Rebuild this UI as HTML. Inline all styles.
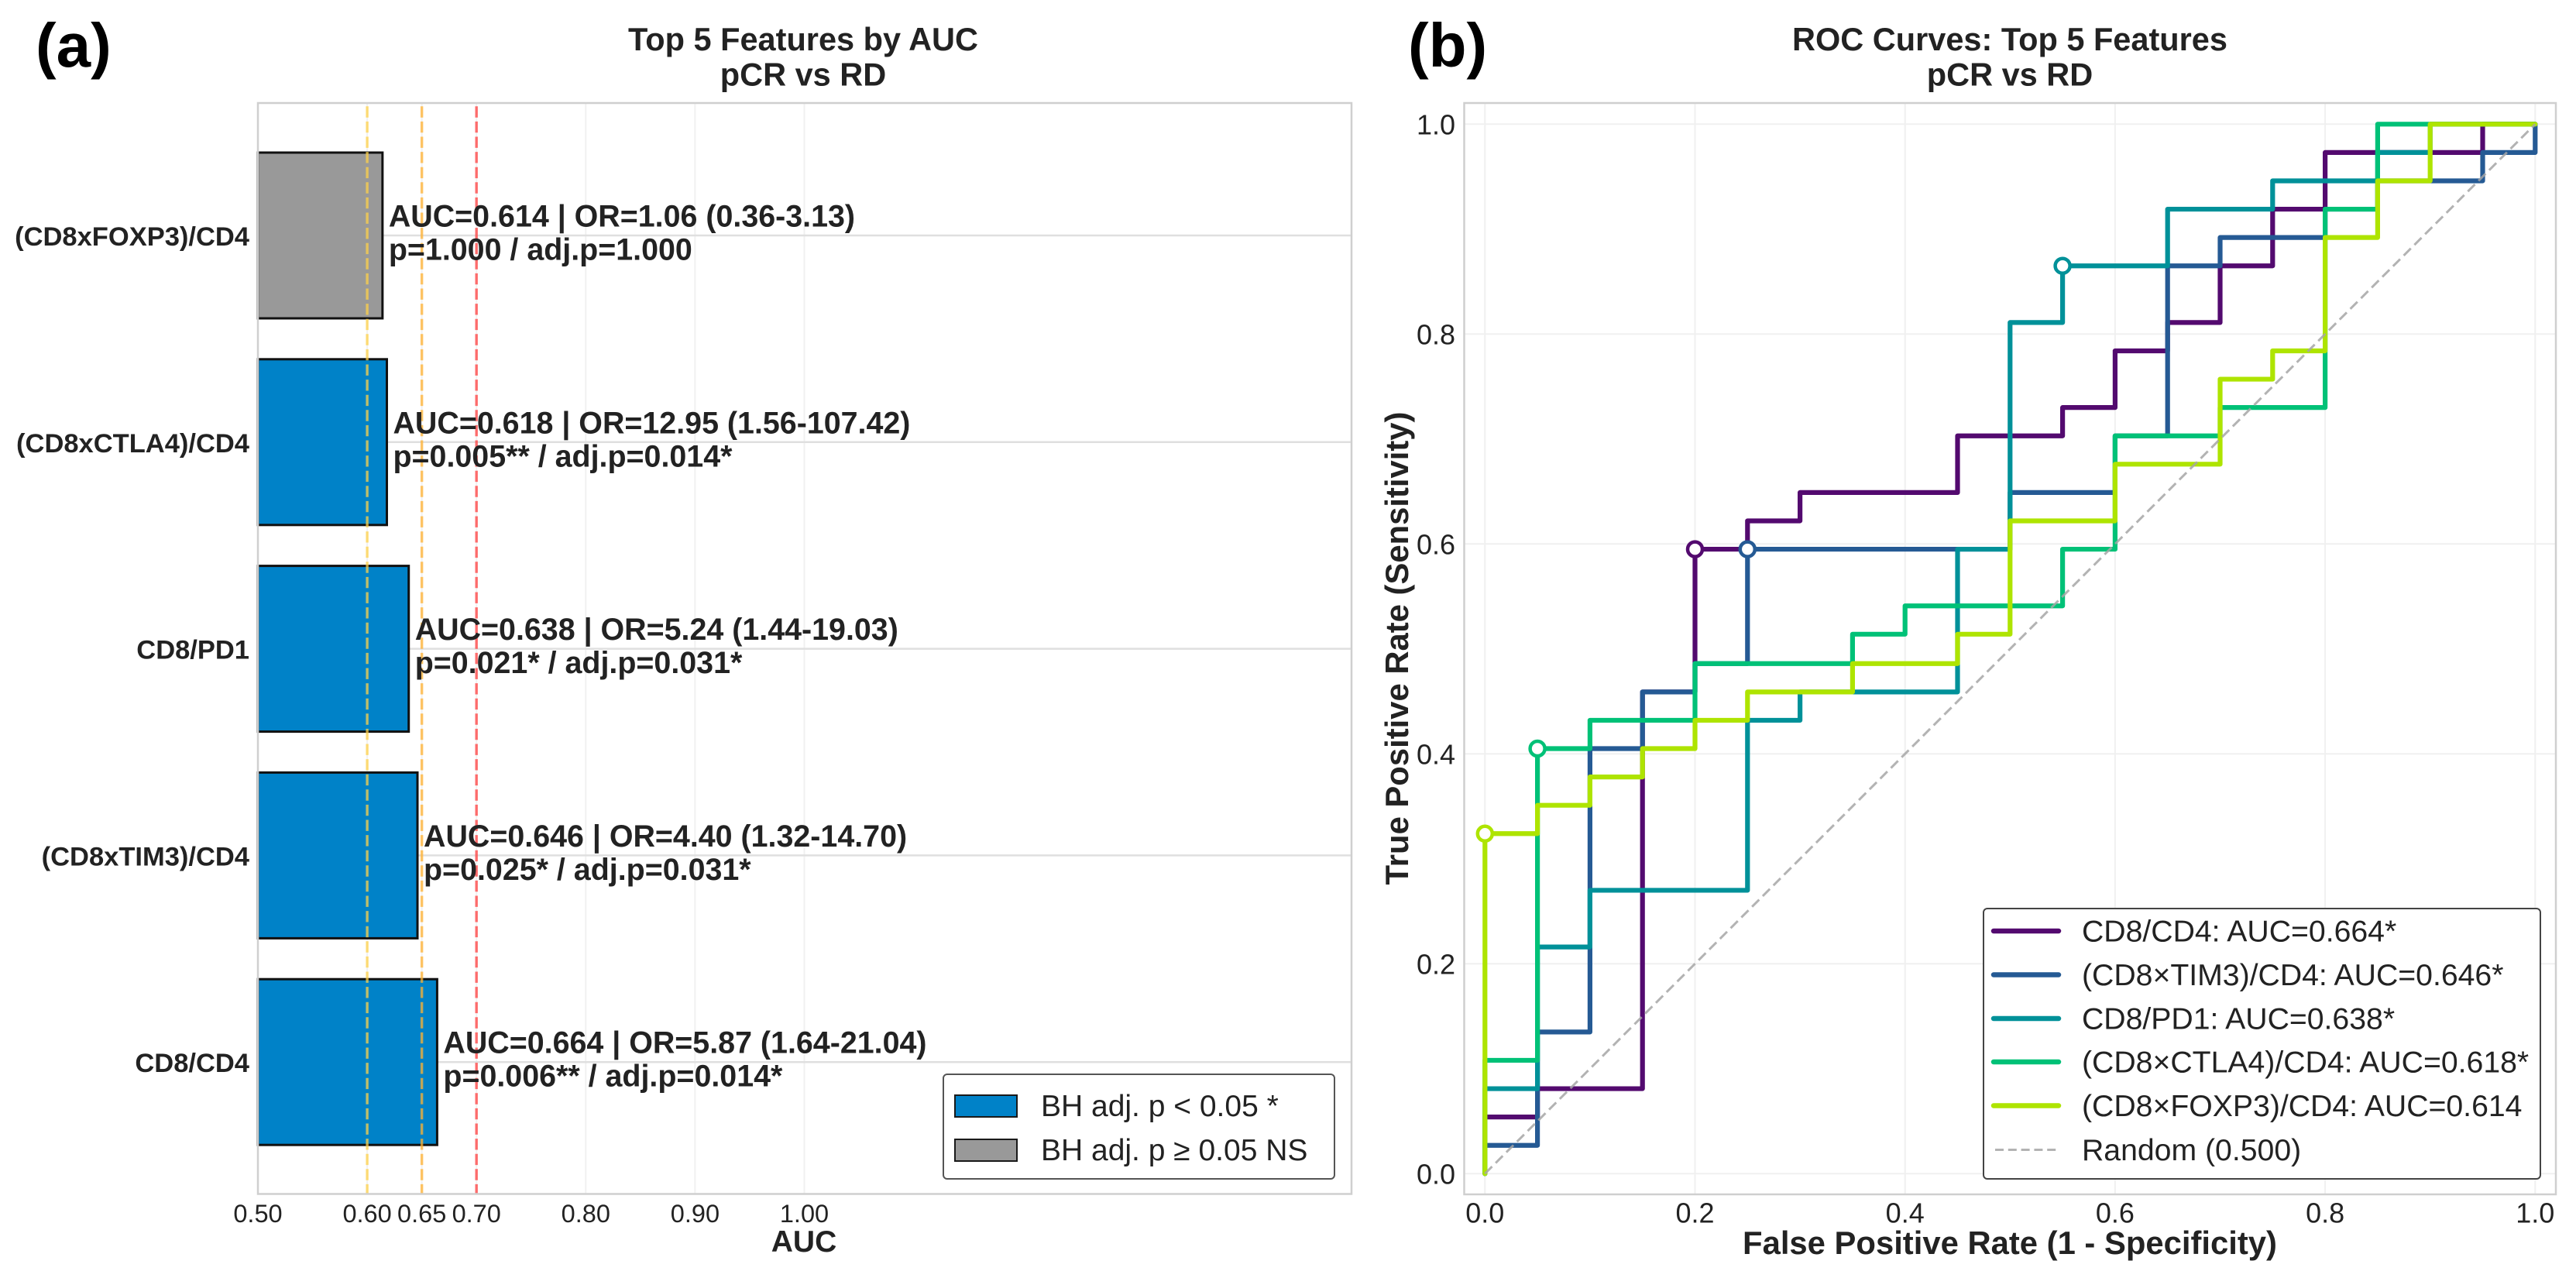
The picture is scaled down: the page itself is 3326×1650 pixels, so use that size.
<!DOCTYPE html>
<html lang="en">
<head>
<meta charset="utf-8">
<title>Top 5 Features by AUC and ROC Curves</title>
<style>
html,body{margin:0;padding:0;background:#fff;width:3326px;height:1650px;overflow:hidden}
svg{display:block;position:absolute;left:0;top:0}
text{font-family:"Liberation Sans",Arial,sans-serif;fill:#222}
.b{font-weight:700}
</style>
</head>
<body>
<svg id="chart" xmlns="http://www.w3.org/2000/svg" width="3326" height="1650" viewBox="0 0 3326 1650">
  <rect x="0" y="0" width="3326" height="1650" fill="#fff"/>
  <text class="b" x="46" y="86" font-size="80" fill="#000" style="fill:#000">(a)</text>
  <text class="b" x="1818" y="86" font-size="80" fill="#000" style="fill:#000">(b)</text>
  <text class="b" x="1037" y="65" font-size="41.5" text-anchor="middle">Top 5 Features by AUC</text>
  <text class="b" x="1037" y="110.7" font-size="41.5" text-anchor="middle">pCR vs RD</text>
  <text class="b" x="2595" y="65" font-size="41.5" text-anchor="middle">ROC Curves: Top 5 Features</text>
  <text class="b" x="2595" y="110.7" font-size="41.5" text-anchor="middle">pCR vs RD</text>
  <g id="panelA"></g>
  <g id="panelALegend">
    <rect x="1218" y="1387" width="505" height="135" rx="5" fill="#fff" stroke="#555" stroke-width="2"/>
    <rect x="1233" y="1414" width="80" height="28" fill="#0082c8" stroke="#1a1a1a" stroke-width="2"/>
    <text x="1344" y="1441" font-size="39">BH adj. p &lt; 0.05 *</text>
    <rect x="1233" y="1471" width="80" height="28" fill="#999" stroke="#1a1a1a" stroke-width="2"/>
    <text x="1344" y="1498" font-size="39">BH adj. p ≥ 0.05 NS</text>
  </g>
  <text class="b" x="1038" y="1616" font-size="39" text-anchor="middle">AUC</text>
  <g id="panelB"></g>
  <g id="panelBLegend">
    <rect x="2561" y="1173" width="719" height="349" rx="5" fill="#fff" stroke="#444" stroke-width="2"/>
    <line x1="2574" x2="2658" y1="1202" y2="1202" stroke="#530a6f" stroke-width="6.5" stroke-linecap="round"/>
    <text x="2688" y="1215.5" font-size="39.2">CD8/CD4: AUC=0.664*</text>
    <line x1="2574" x2="2658" y1="1258.5" y2="1258.5" stroke="#255a94" stroke-width="6.5" stroke-linecap="round"/>
    <text x="2688" y="1272" font-size="39.2">(CD8×TIM3)/CD4: AUC=0.646*</text>
    <line x1="2574" x2="2658" y1="1315" y2="1315" stroke="#009199" stroke-width="6.5" stroke-linecap="round"/>
    <text x="2688" y="1328.5" font-size="39.2">CD8/PD1: AUC=0.638*</text>
    <line x1="2574" x2="2658" y1="1371" y2="1371" stroke="#00c177" stroke-width="6.5" stroke-linecap="round"/>
    <text x="2688" y="1384.5" font-size="39.2">(CD8×CTLA4)/CD4: AUC=0.618*</text>
    <line x1="2574" x2="2658" y1="1427.5" y2="1427.5" stroke="#aee400" stroke-width="6.5" stroke-linecap="round"/>
    <text x="2688" y="1441" font-size="39.2">(CD8×FOXP3)/CD4: AUC=0.614</text>
    <line x1="2576" x2="2656" y1="1484.5" y2="1484.5" stroke="#b3b3b3" stroke-width="3" stroke-dasharray="11 5.8"/>
    <text x="2688" y="1498" font-size="39.2">Random (0.500)</text>
  </g>
  <text class="b" x="2595" y="1619" font-size="41.8" text-anchor="middle">False Positive Rate (1 - Specificity)</text>
  <text class="b" x="0" y="0" font-size="41.8" text-anchor="middle" transform="translate(1818 837) rotate(-90)">True Positive Rate (Sensitivity)</text>
</svg>
<script>
// ---- Panel (a) data ----
const barCategories = ["(CD8xFOXP3)/CD4", "(CD8xCTLA4)/CD4", "CD8/PD1", "(CD8xTIM3)/CD4", "CD8/CD4"];
const barAuc = [0.614, 0.618, 0.638, 0.646, 0.664];
const barSignificant = [false, true, true, true, true];
const barStatLines = [
  "AUC=0.614 | OR=1.06 (0.36-3.13)",
  "AUC=0.618 | OR=12.95 (1.56-107.42)",
  "AUC=0.638 | OR=5.24 (1.44-19.03)",
  "AUC=0.646 | OR=4.40 (1.32-14.70)",
  "AUC=0.664 | OR=5.87 (1.64-21.04)"
];
const barPLines = [
  "p=1.000 / adj.p=1.000",
  "p=0.005** / adj.p=0.014*",
  "p=0.021* / adj.p=0.031*",
  "p=0.025* / adj.p=0.031*",
  "p=0.006** / adj.p=0.014*"
];
const aucTicks = [0.5, 0.6, 0.65, 0.7, 0.8, 0.9, 1.0];
const aucTickLabels = ["0.50", "0.60", "0.65", "0.70", "0.80", "0.90", "1.00"];
const aucThresholds = [0.6, 0.65, 0.7];

// ---- Panel (b) data ----
const rocTicks = [0, 0.2, 0.4, 0.6, 0.8, 1.0];
const rocTickLabels = ["0.0", "0.2", "0.4", "0.6", "0.8", "1.0"];
const randomFpr = [0, 1];
const randomTpr = [0, 1];
const cd8cd4Fpr = [0, 0, 0.05, 0.15, 0.2, 0.25, 0.3, 0.45, 0.55, 0.6, 0.65, 0.7, 0.75, 0.8, 0.95, 1];
const cd8cd4Tpr = [0, 0.054, 0.081, 0.459, 0.595, 0.622, 0.649, 0.703, 0.73, 0.784, 0.811, 0.865, 0.919, 0.973, 1, 1];
const tim3Fpr = [0, 0, 0.05, 0.1, 0.15, 0.2, 0.25, 0.5, 0.6, 0.65, 0.7, 0.8, 0.85, 0.95, 1];
const tim3Tpr = [0, 0.027, 0.135, 0.405, 0.459, 0.486, 0.595, 0.649, 0.703, 0.865, 0.892, 0.919, 0.946, 0.973, 1];
const pd1Fpr = [0, 0, 0.05, 0.1, 0.25, 0.3, 0.45, 0.5, 0.55, 0.65, 0.75, 0.85, 0.9, 1];
const pd1Tpr = [0, 0.081, 0.216, 0.27, 0.432, 0.459, 0.595, 0.811, 0.865, 0.919, 0.946, 0.973, 1, 1];
const ctla4Fpr = [0, 0, 0.05, 0.1, 0.2, 0.35, 0.4, 0.55, 0.6, 0.7, 0.8, 0.85, 1];
const ctla4Tpr = [0, 0.108, 0.405, 0.432, 0.486, 0.514, 0.541, 0.595, 0.703, 0.73, 0.919, 1, 1];
const foxp3Fpr = [0, 0, 0.05, 0.1, 0.15, 0.2, 0.25, 0.35, 0.45, 0.5, 0.6, 0.7, 0.75, 0.8, 0.85, 0.9, 1];
const foxp3Tpr = [0, 0.324, 0.351, 0.378, 0.405, 0.432, 0.459, 0.486, 0.514, 0.622, 0.676, 0.757, 0.784, 0.892, 0.946, 1, 1];
const rocSeriesNames = ["cd8-cd4", "cd8-tim3", "cd8-pd1", "cd8-ctla4", "cd8-foxp3"];
const rocSeriesFpr = [cd8cd4Fpr, tim3Fpr, pd1Fpr, ctla4Fpr, foxp3Fpr];
const rocSeriesTpr = [cd8cd4Tpr, tim3Tpr, pd1Tpr, ctla4Tpr, foxp3Tpr];
const optimalFpr = [0.2, 0.25, 0.55, 0.05, 0];
const optimalTpr = [0.595, 0.595, 0.865, 0.405, 0.324];

// ---- Styling / scales ----
const NS = "http://www.w3.org/2000/svg";
const rocColors = ["#530a6f", "#255a94", "#009199", "#00c177", "#aee400"];
const thresholdColors = ["#ffd24a", "#ffb232", "#ff3d3d"];
function make(parent, tag, attrs, txt) {
  const el = document.createElementNS(NS, tag);
  for (const k in attrs) el.setAttribute(k, attrs[k]);
  if (txt !== undefined) el.textContent = txt;
  parent.appendChild(el);
  return el;
}
const A = {l: 333, r: 1745, t: 133, b: 1541.5};
const B = {l: 1890.5, r: 3300, t: 133, b: 1542};
const xAuc = v => A.l + (v - 0.5) * 1411;
const yBand = i => 304 + 266.8 * i;
const bandH = 214;
const xRoc = v => 1917.3 + v * 1356;
const yRoc = v => 1515.3 - v * 1355;

// ---- Panel (a) ----
const pa = document.getElementById("panelA");
let el;
el = make(pa, "rect", {x: A.l, y: A.t, width: A.r - A.l, height: A.b - A.t, fill: "#fff"});


aucTicks.forEach((t, i) => {
  const g = make(pa, "line", {x1: xAuc(t), x2: xAuc(t), y1: A.t, y2: A.b, stroke: "#f1f1f1", "stroke-width": 2});
  
  
  const l = make(pa, "text", {x: xAuc(t), y: 1578, "font-size": 32.5, "text-anchor": "middle"}, aucTickLabels[i]);
  
  
});
barCategories.forEach((c, i) => {
  const g = make(pa, "line", {x1: A.l, x2: A.r, y1: yBand(i), y2: yBand(i), stroke: "#dfdfdf", "stroke-width": 2.5});
  
  
});
barCategories.forEach((c, i) => {
  const b = make(pa, "rect", {x: A.l, y: yBand(i) - bandH / 2, width: xAuc(barAuc[i]) - A.l, height: bandH,
    fill: barSignificant[i] ? "#0082c8" : "#999999", stroke: "#111", "stroke-width": 3});
  
  
  const l = make(pa, "text", {class: "b", x: 322, y: yBand(i) + 13, "font-size": 34.5, "text-anchor": "end"}, c);
  
  
});
aucThresholds.forEach((t, i) => {
  const v = make(pa, "line", {x1: xAuc(t), x2: xAuc(t), y1: A.t, y2: A.b, stroke: thresholdColors[i], "stroke-width": 3.4,
    "stroke-opacity": 0.75, "stroke-dasharray": "14.4 5.2", "stroke-dashoffset": 15.3});
  
  
});
el = make(pa, "rect", {x: A.l, y: A.t, width: A.r - A.l, height: A.b - A.t, fill: "none", stroke: "#cfcfcf", "stroke-width": 2.5});


barCategories.forEach((c, i) => {
  const s = make(pa, "text", {class: "b", x: xAuc(barAuc[i]) + 8, y: yBand(i) - 11.5, "font-size": 39.4}, barStatLines[i]);
  
  
  const p = make(pa, "text", {class: "b", x: xAuc(barAuc[i]) + 8, y: yBand(i) + 31.5, "font-size": 39.4}, barPLines[i]);
  
  
});

// ---- Panel (b) ----
const pb = document.getElementById("panelB");
el = make(pb, "rect", {x: B.l, y: B.t, width: B.r - B.l, height: B.b - B.t, fill: "#fff"});


rocTicks.forEach((t, i) => {
  const gx = make(pb, "line", {x1: xRoc(t), x2: xRoc(t), y1: B.t, y2: B.b, stroke: "#f0f0f0", "stroke-width": 2});
  
  
  const gy = make(pb, "line", {x1: B.l, x2: B.r, y1: yRoc(t), y2: yRoc(t), stroke: "#f0f0f0", "stroke-width": 2});
  
  
  const lx = make(pb, "text", {x: xRoc(t), y: 1578.5, "font-size": 36, "text-anchor": "middle"}, rocTickLabels[i]);
  
  
  const ly = make(pb, "text", {x: 1879, y: yRoc(t) + 13, "font-size": 36, "text-anchor": "end"}, rocTickLabels[i]);
  
  
});
el = make(pb, "rect", {x: B.l, y: B.t, width: B.r - B.l, height: B.b - B.t, fill: "none", stroke: "#cfcfcf", "stroke-width": 2.5});


rocSeriesFpr.forEach((fpr, s) => {
  const tpr = rocSeriesTpr[s];
  let d = "M" + xRoc(fpr[0]) + " " + yRoc(tpr[0]);
  for (let i = 1; i < fpr.length; i++) {
    d += "H" + xRoc(fpr[i]) + "V" + yRoc(tpr[i]);
  }
  const p = make(pb, "path", {d: d, fill: "none", stroke: rocColors[s], "stroke-width": 6.2, "stroke-linejoin": "round", "stroke-linecap": "round"});
  
  
  const m = make(pb, "circle", {cx: xRoc(optimalFpr[s]), cy: yRoc(optimalTpr[s]), r: 9.5, fill: "#fff", stroke: rocColors[s], "stroke-width": 4.5});
  
  
});
el = make(pb, "line", {x1: xRoc(randomFpr[0]), y1: yRoc(randomTpr[0]), x2: xRoc(randomFpr[1]), y2: yRoc(randomTpr[1]),
  stroke: "#a6a6a6", "stroke-opacity": 0.85, "stroke-width": 3, "stroke-dasharray": "13 6.5"});


</script>
</body>
</html>
